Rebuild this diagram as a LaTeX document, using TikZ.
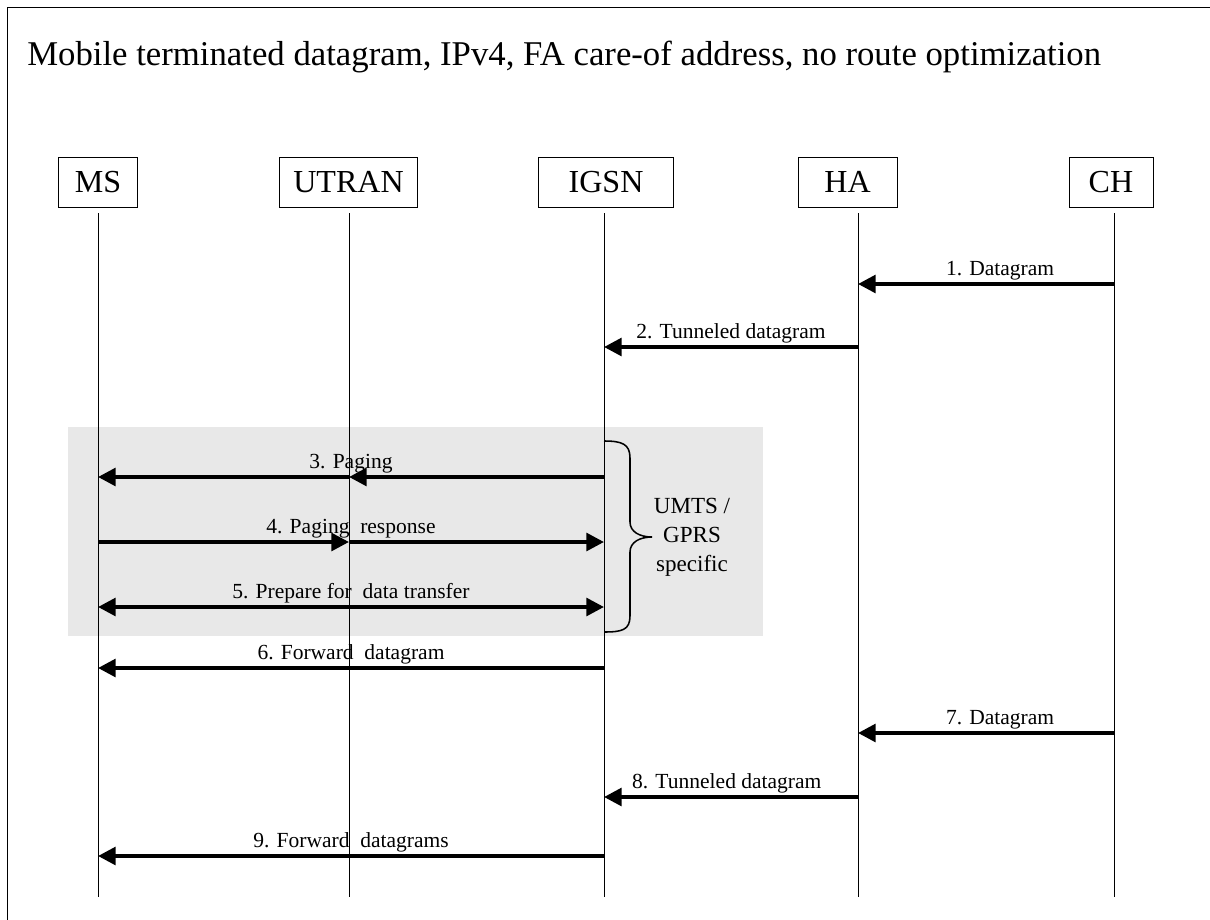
\documentclass[tikz,border=0pt]{standalone}
\usepackage{fontspec}
\setmainfont{Liberation Serif}
\usepackage{tikz}
\usetikzlibrary{arrows.meta,positioning,calc}
\definecolor{graybg}{RGB}{232,232,232}
\newcommand{\titlefont}{\fontsize{24.7pt}{29pt}\selectfont}
\newcommand{\boxfont}{\fontsize{22.8pt}{27pt}\selectfont}
\newcommand{\msgfont}{\fontsize{15.3pt}{18pt}\selectfont}
\newcommand{\notefont}{\fontsize{16.4pt}{20.6pt}\selectfont}
\tikzset{
    entity/.style={draw, line width=0.7pt, inner sep=0pt, minimum height=1.25cm, font=\boxfont},
    life/.style={line width=0.65pt},
    msg/.style={line width=2.7pt, -{Triangle[length=12.5pt,width=12.5pt]}},
    msgboth/.style={line width=2.7pt, {Triangle[length=12.5pt,width=12.5pt]}-{Triangle[length=12.5pt,width=12.5pt]}},
    lbl/.style={anchor=base, inner sep=0pt, yshift=5.7pt, font=\msgfont}
}

\begin{document}
\begin{tikzpicture}[x=0.025cm, y=-0.025cm]
    \useasboundingbox (0,0) rectangle (1210,920);
    \draw[line width=0.7pt] (7,920) -- (7,7) -- (1210,7); % frame

    \node[anchor=base west, inner sep=0pt, font=\titlefont] (title) at (27,66) {Mobile terminated datagram, IPv4, FA care-of address, no route optimization};

    % entities
    \node[entity, minimum width=1.95cm] (MS) at (98,182) {MS};
    \node[entity, minimum width=3.425cm] (UTRAN) at (348.5,182) {UTRAN};
    \node[entity, minimum width=3.35cm] (IGSN) at (606,182) {IGSN};
    \node[entity, minimum width=2.475cm] (HA) at (847.5,182) {HA};
    \node[entity, minimum width=2.1cm] (CH) at (1111,182) {CH};

    % UMTS/GPRS specific part
    \fill[graybg] (68,427) rectangle (763,636);

    % lifelines
    \foreach \n/\x in {ms/98, utran/349, igsn/604, ha/858, ch/1114} {
        \coordinate (\n) at (\x,213);
        \coordinate (\n-end) at (\x,897);
        \draw[life] (\n) -- (\n-end);
    }

    \draw[msg] (ch |- 0,284) -- node[lbl, xshift=10pt] {1. Datagram} (ha |- 0,284);
    \draw[msg] (ha |- 0,347) -- node[lbl] {2. Tunneled datagram} (igsn |- 0,347);

    \draw[msg] (igsn |- 0,477) -- (utran |- 0,477);
    \draw[msg] (utran |- 0,477) -- (ms |- 0,477);
    \path (ms |- 0,477) -- node[lbl] {3. Paging} (igsn |- 0,477);

    \draw[msg] (ms |- 0,542) -- (utran |- 0,542);
    \draw[msg] (utran |- 0,542) -- (igsn |- 0,542);
    \path (ms |- 0,542) -- node[lbl] {4. Paging~ response} (igsn |- 0,542);

    \draw[msgboth] (ms |- 0,607) -- node[lbl] {5. Prepare for~ data transfer} (igsn |- 0,607);

    \draw[msg] (igsn |- 0,668) -- node[lbl] {6. Forward~ datagram} (ms |- 0,668);
    \draw[msg] (ch |- 0,733) -- node[lbl, xshift=10pt] {7. Datagram} (ha |- 0,733);
    \draw[msg] (ha |- 0,797) -- node[lbl, xshift=-3pt] {8. Tunneled datagram} (igsn |- 0,797);
    \draw[msg] (igsn |- 0,856) -- node[lbl] {9. Forward~ datagrams} (ms |- 0,856);

    % brace
    \draw[line width=1.1pt] (igsn |- 0,441) .. controls (622,441) and (630,444) .. (630,458) -- (630,522)
        .. controls (630,532) and (640,537) .. (652,537)
        .. controls (640,537) and (630,542) .. (630,552) -- (630,616)
        .. controls (630,630) and (622,632) .. (igsn |- 0,632);
    \node[align=center, inner sep=0pt, font=\notefont] (note) at (692,537) {UMTS /\\GPRS\\specific};
\end{tikzpicture}
\end{document}
